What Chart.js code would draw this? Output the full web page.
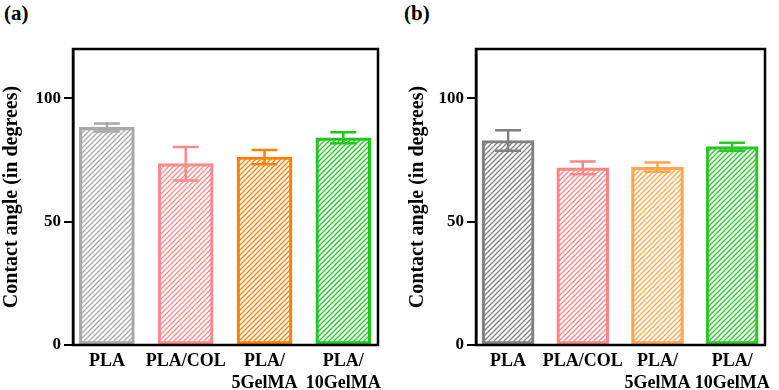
<!DOCTYPE html>
<html>
<head>
<meta charset="utf-8">
<script src="https://cdn.jsdelivr.net/npm/chart.js@4/dist/chart.umd.min.js"></script>
<style>
  body { margin: 0; background: #fff; width: 779px; height: 390px; position: relative; overflow: hidden; }
  canvas { position: absolute; top: 0; }
  .panel-label { position: absolute; top: 3px; font: bold 21px "Liberation Serif", serif; line-height: 1; color: #000; }
</style>
</head>
<body>
<div class="panel-label" style="left:4px">(a)</div>
<div class="panel-label" style="left:404px">(b)</div>
<canvas id="chart-a" width="390" height="390" style="left:0"></canvas>
<canvas id="chart-b" width="389" height="390" style="left:390px"></canvas>
<script>
const categories = [['PLA'], ['PLA/COL'], ['PLA/', '5GelMA'], ['PLA/', '10GelMA']];
const yTicks = [0, 50, 100];

// panel (a)
const meanA = [88.2, 73.5, 76.2, 84.0];
const errA = [1.6, 6.8, 2.9, 2.2];
const colorsA = ['#a8a8a8', '#ff8a8a', '#ff8000', '#1ec81e'];

// panel (b)
const meanB = [82.9, 71.8, 72.1, 80.4];
const errB = [4.2, 2.6, 1.9, 1.6];
const colorsB = ['#808080', '#ff8585', '#ffa64f', '#28c828'];

const serif = '"Liberation Serif", "Times New Roman", serif';

function hatch(color) {
  const s = 5;
  const c = document.createElement('canvas');
  c.width = s; c.height = s;
  const ctx = c.getContext('2d');
  ctx.strokeStyle = color;
  ctx.lineWidth = 1.3;
  ctx.beginPath();
  ctx.moveTo(-1, s + 1); ctx.lineTo(s + 1, -1);
  ctx.moveTo(-1, 1); ctx.lineTo(1, -1);
  ctx.moveTo(s - 1, s + 1); ctx.lineTo(s + 1, s - 1);
  ctx.stroke();
  return ctx.createPattern(c, 'repeat');
}

// error bars + closed frame
const extras = {
  id: 'extras',
  afterDatasetsDraw(chart) {
    const ctx = chart.ctx;
    const y = chart.scales.y;
    const ds = chart.data.datasets[0];
    chart.getDatasetMeta(0).data.forEach((bar, i) => {
      const hi = y.getPixelForValue(ds.means[i] + ds.errs[i]);
      const lo = y.getPixelForValue(ds.means[i] - ds.errs[i]);
      const cap = 13;
      ctx.save();
      ctx.strokeStyle = ds.borderColor[i];
      ctx.lineWidth = 2.5;
      ctx.beginPath();
      ctx.moveTo(bar.x, hi); ctx.lineTo(bar.x, lo);
      ctx.moveTo(bar.x - cap, hi); ctx.lineTo(bar.x + cap, hi);
      ctx.moveTo(bar.x - cap, lo); ctx.lineTo(bar.x + cap, lo);
      ctx.stroke();
      ctx.restore();
    });
  },
  afterDraw(chart) {
    const a = chart.chartArea;
    const ctx = chart.ctx;
    ctx.save();
    ctx.strokeStyle = '#000';
    ctx.lineWidth = 2.5;
    ctx.strokeRect(a.left, a.top, a.right - a.left, a.bottom - a.top);
    ctx.restore();
  }
};

function makePanel(id, means, errs, colors, o) {
  new Chart(document.getElementById(id), {
    type: 'bar',
    data: {
      datasets: [{
        data: means.map((v, i) => ({ x: i, y: v })),
        means: means,
        errs: errs,
        backgroundColor: colors.map(hatch),
        borderColor: colors,
        borderWidth: 2.5,
        borderSkipped: false,
        barThickness: o.barWidth
      }]
    },
    options: {
      responsive: false,
      animation: false,
      devicePixelRatio: 1,
      layout: { padding: { top: 49, right: o.padRight, bottom: 0, left: o.padLeft } },
      plugins: { legend: { display: false }, tooltip: { enabled: false } },
      scales: {
        x: {
          type: 'linear',
          offset: false,
          min: -0.43,
          max: 3.44,
          afterBuildTicks: s => { s.ticks = categories.map((c, i) => ({ value: i })); },
          afterFit: s => { s.height = 45; },
          grid: { display: false, drawTicks: false },
          border: { display: false },
          ticks: {
            callback: v => categories[v],
            color: '#000',
            padding: 6,
            maxRotation: 0,
            autoSkip: false,
            font: { family: serif, size: 18, weight: 'bold', lineHeight: 1.2 }
          }
        },
        y: {
          min: 0,
          max: 120,
          afterBuildTicks: s => { s.ticks = yTicks.map(v => ({ value: v })); },
          afterFit: s => { s.width = o.axisWidth; },
          grid: { drawOnChartArea: false, drawTicks: true, tickLength: 9, color: '#000', lineWidth: 2 },
          border: { display: true, color: '#000', width: 2.5 },
          ticks: {
            color: '#000',
            padding: 3,
            font: { family: serif, size: 17, weight: 'bold' }
          },
          title: {
            display: true,
            text: 'Contact angle (in degrees)',
            color: '#000',
            padding: { top: 0, bottom: 0 },
            font: { family: serif, size: 20, weight: 'bold', lineHeight: 1.2 }
          }
        }
      }
    },
    plugins: [extras]
  });
}

makePanel('chart-a', meanA, errA, colorsA, { barWidth: 55, padLeft: 0, axisWidth: 73, padRight: 12 });
makePanel('chart-b', meanB, errB, colorsB, { barWidth: 52, padLeft: 16, axisWidth: 70, padRight: 14 });
</script>
</body>
</html>
